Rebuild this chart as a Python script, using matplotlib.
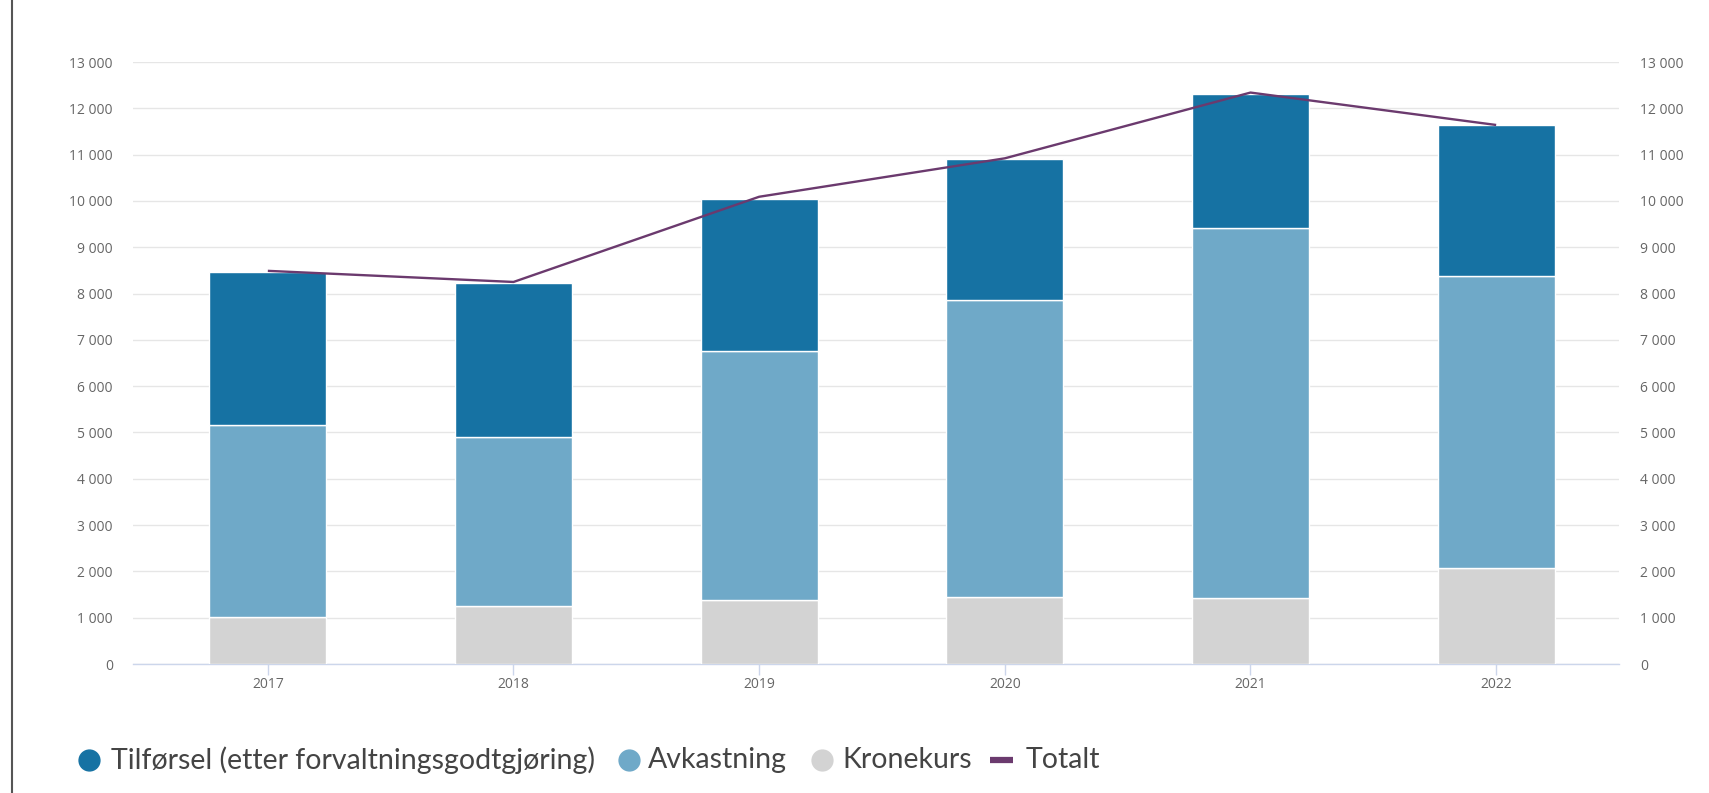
import numpy as np
import matplotlib
matplotlib.use("Agg")
import matplotlib.pyplot as plt
from matplotlib.lines import Line2D
from matplotlib.ticker import FuncFormatter

years = ["2017", "2018", "2019", "2020", "2021", "2022"]
kronekurs = [1020, 1250, 1390, 1440, 1415, 2075]
avkastning = [4150, 3660, 5360, 6410, 7990, 6295]
tilforsel = [3300, 3320, 3300, 3050, 2900, 3260]
totalt = [8490, 8250, 10090, 10920, 12340, 11640]
legend_labels = ["Tilførsel (etter forvaltningsgodtgjøring)", "Avkastning",
                 "Kronekurs", "Totalt"]

C_TIL = "#1672A3"
C_AVK = "#6FA9C8"
C_KRO = "#D3D3D3"
C_TOT = "#6B3A6E"
TICK_C = "#666666"

plt.rcParams.update({"font.family": ["Open Sans", "DejaVu Sans"]})

fig = plt.figure(figsize=(17.09, 7.93), dpi=100)
W, H = 1709, 793
x0, x1, y0, y1 = 133, 1619, 664, 62
ax = fig.add_axes([x0 / W, 1 - y0 / H, (x1 - x0) / W, (y0 - y1) / H])

x = np.arange(len(years))
bw = 0.476
kro = np.array(kronekurs); avk = np.array(avkastning); til = np.array(tilforsel)
ax.bar(x, kro, bw, color=C_KRO, edgecolor="white", linewidth=1.0, zorder=3)
ax.bar(x, avk, bw, bottom=kro, color=C_AVK, edgecolor="white", linewidth=1.0, zorder=3)
ax.bar(x, til, bw, bottom=kro + avk, color=C_TIL, edgecolor="white", linewidth=1.0, zorder=3)
ax.plot(x, totalt, color=C_TOT, lw=1.7, zorder=4, solid_capstyle="butt")

# axis line runs a little past the first category (as in the original)
ax.set_xlim(-0.5 - 12 / 245.7, len(years) - 0.5)
ax.set_ylim(0, 13000)
ticks = np.arange(0, 13001, 1000)
fmt = FuncFormatter(lambda v, p: f"{int(v):,}".replace(",", " "))
ax.set_yticks(ticks)
ax.yaxis.set_major_formatter(fmt)
ax.grid(axis="y", color="#E6E6E6", lw=1.0, zorder=0)
ax.set_axisbelow(True)
for s in ["top", "left", "right"]:
    ax.spines[s].set_visible(False)
ax.spines["bottom"].set_color("#CCD6EB")
ax.spines["bottom"].set_linewidth(1.0)
ax.set_xticks(x)
ax.set_xticklabels(years)
ax.tick_params(axis="x", colors="#CCD6EB", length=8, width=1, labelcolor=TICK_C,
               labelsize=10, pad=1.5)
ax.tick_params(axis="y", length=0, labelcolor=TICK_C, labelsize=10, pad=14.5)

ax2 = ax.twinx()
ax2.set_ylim(0, 13000)
ax2.set_yticks(ticks)
ax2.yaxis.set_major_formatter(fmt)
ax2.tick_params(axis="y", length=0, labelcolor=TICK_C, labelsize=10, pad=15)
for s in ax2.spines.values():
    s.set_visible(False)

# left border of the screenshot
fig.add_artist(Line2D([12 / W, 12 / W], [0, 1], color="#555555", lw=1.5))

# legend, laid out by hand like the original
leg_y = 1 - 760 / H
marker_x = [88.7, 629, 821.7, 1001.5]
text_x = [111, 648, 842, 1026]
leg_cols = [C_TIL, C_AVK, C_KRO, C_TOT]
for i, (lab, col) in enumerate(zip(legend_labels, leg_cols)):
    mx = marker_x[i] / W
    if lab == "Totalt":
        fig.add_artist(Line2D([mx - 11.5 / W, mx + 11.5 / W], [leg_y, leg_y],
                              color=col, lw=4.5, solid_capstyle="butt"))
    else:
        fig.add_artist(Line2D([mx], [leg_y], marker="o", ms=15, mfc=col, mec=col, ls=""))
    fig.text(text_x[i] / W, leg_y, lab, ha="left", va="center", fontsize=20.5,
             family=["Lato", "DejaVu Sans"], color="#444444")

fig.savefig("out.png", dpi=100)
